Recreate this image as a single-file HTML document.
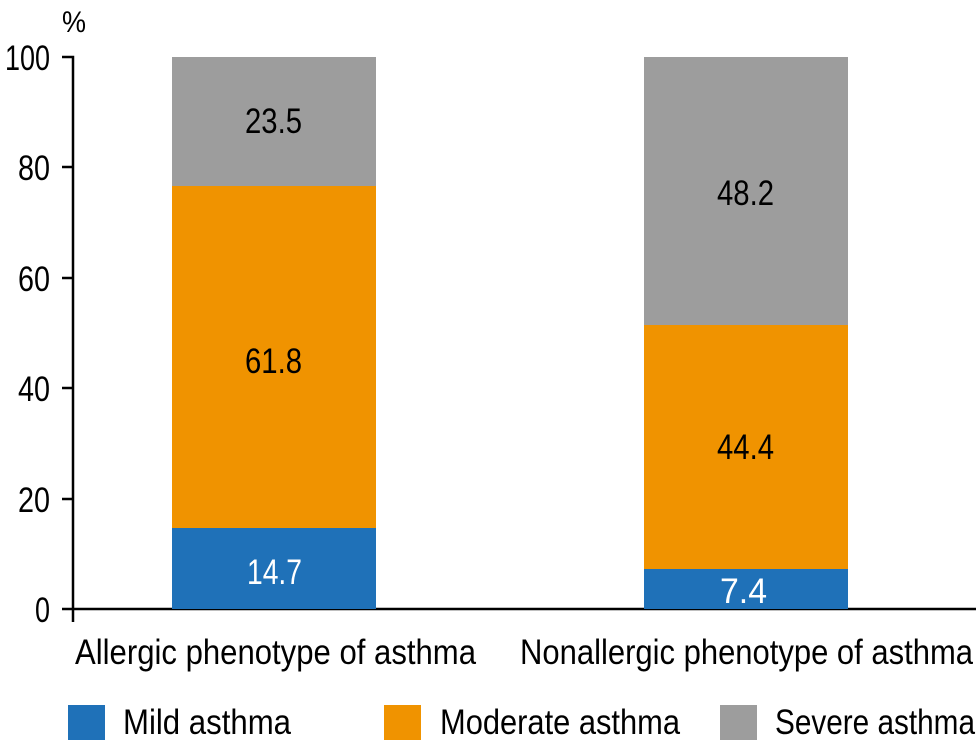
<!DOCTYPE html>
<html><head><style>
body{margin:0;background:#fff}
svg text{font-family:"Liberation Sans",sans-serif;fill:#000}
</style></head><body>
<svg width="980" height="745" xmlns="http://www.w3.org/2000/svg">
<g font-size="35" lengthAdjust="spacingAndGlyphs">
<text x="62" y="32" font-size="30" textLength="24" lengthAdjust="spacingAndGlyphs">%</text>
<text x="5" y="70" textLength="45" lengthAdjust="spacingAndGlyphs">100</text>
<text x="18" y="180" textLength="32" lengthAdjust="spacingAndGlyphs">80</text>
<text x="18" y="291" textLength="32" lengthAdjust="spacingAndGlyphs">60</text>
<text x="18" y="401" textLength="32" lengthAdjust="spacingAndGlyphs">40</text>
<text x="18" y="512" textLength="32" lengthAdjust="spacingAndGlyphs">20</text>
<text x="35" y="622" textLength="15" lengthAdjust="spacingAndGlyphs">0</text>
</g>
<g stroke="#000" stroke-width="2.5" fill="none">
<path d="M62 57H73V622"/>
<path d="M62 167H73M62 278H73M62 388H73M62 499H73M62 609H976"/>
</g>
<rect x="172" y="57" width="204" height="129" fill="#9d9d9d"/>
<rect x="172" y="186" width="204" height="342" fill="#f09300"/>
<rect x="172" y="528" width="204" height="81" fill="#1f71b8"/>
<rect x="644" y="57" width="204" height="268" fill="#9d9d9d"/>
<rect x="644" y="325" width="204" height="244" fill="#f09300"/>
<rect x="644" y="569" width="204" height="40" fill="#1f71b8"/>
<g font-size="35">
<text x="245" y="133" textLength="57" lengthAdjust="spacingAndGlyphs">23.5</text>
<text x="245" y="373" textLength="57" lengthAdjust="spacingAndGlyphs">61.8</text>
<text x="247" y="584" textLength="55" lengthAdjust="spacingAndGlyphs" style="fill:#fff">14.7</text>
<text x="717" y="205" textLength="57" lengthAdjust="spacingAndGlyphs">48.2</text>
<text x="717" y="459" textLength="57" lengthAdjust="spacingAndGlyphs">44.4</text>
<text x="720" y="603" textLength="47" lengthAdjust="spacingAndGlyphs" style="fill:#fff">7.4</text>
</g>
<g font-size="35">
<text x="75" y="664" textLength="401" lengthAdjust="spacingAndGlyphs">Allergic phenotype of asthma</text>
<text x="520" y="664" textLength="453" lengthAdjust="spacingAndGlyphs">Nonallergic phenotype of asthma</text>
<rect x="68" y="705" width="37" height="35" fill="#1f71b8"/>
<text x="123" y="734" textLength="168" lengthAdjust="spacingAndGlyphs">Mild asthma</text>
<rect x="384" y="705" width="37" height="35" fill="#f09300"/>
<text x="440" y="734" textLength="240" lengthAdjust="spacingAndGlyphs">Moderate asthma</text>
<rect x="720" y="705" width="37" height="35" fill="#9d9d9d"/>
<text x="775" y="734" textLength="200" lengthAdjust="spacingAndGlyphs">Severe asthma</text>
</g>
</svg>
</body></html>
